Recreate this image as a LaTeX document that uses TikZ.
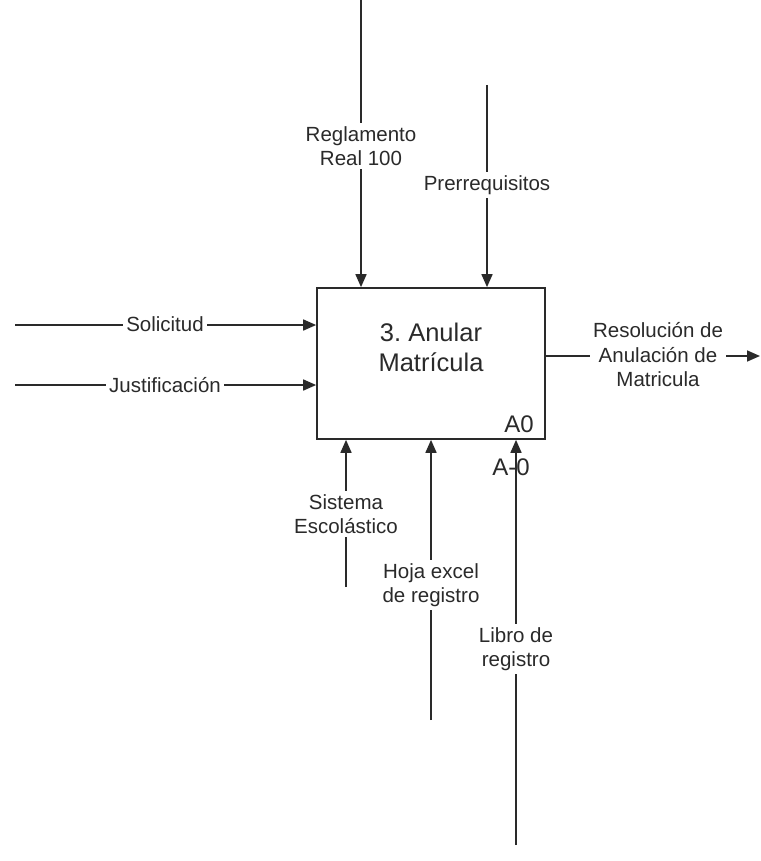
\documentclass[tikz,border=0pt]{standalone}
\usepackage{fontspec}
\setmainfont{Liberation Sans}
\usetikzlibrary{arrows.meta}
\definecolor{ink}{HTML}{2A2A2A}
\frenchspacing
\begin{document}
\begin{tikzpicture}[x=1pt,y=-1pt,
  flow/.style={draw=ink,line width=1.7pt,-{Triangle[length=13pt,width=11pt]}},
  lbl/.style={fill=white,text=ink,font=\fontsize{20.5}{24.5}\selectfont,align=center,inner sep=3pt},
  actbox/.style={draw=ink,line width=1.7pt,minimum width=228pt,minimum height=151pt,inner sep=0pt}]
\useasboundingbox (0,0) rectangle (760,861);
% activity box
\node[actbox] (box) at (431,363.5) {};
\node[text=ink,font=\fontsize{25.5}{30}\selectfont,align=center] (title) at (431,347) {3. Anular\\Matrícula};
\node[text=ink,font=\fontsize{24}{28}\selectfont,anchor=east,inner sep=0pt] (nr) at (534,424) {A0};
\node[text=ink,font=\fontsize{24}{28}\selectfont,inner sep=0pt] (nodeid) at (511,467) {A-0};
% free ends
\coordinate (reg) at (361,0);
\coordinate (pre) at (487,85);
\coordinate (sol) at (15,325);
\coordinate (jus) at (15,385);
\coordinate (res) at (760,356);
\coordinate (sis) at (346,587);
\coordinate (hoj) at (431,720);
\coordinate (lib) at (516,845);
% controls
\draw[flow] (reg) -- (reg |- box.north);
\draw[flow] (pre) -- (pre |- box.north);
% inputs
\draw[flow] (sol) -- (sol -| box.west);
\draw[flow] (jus) -- (jus -| box.west);
% output
\draw[flow] (res -| box.east) -- (res);
% mechanisms
\draw[flow] (sis) -- (sis |- box.south);
\draw[flow] (hoj) -- (hoj |- box.south);
\draw[flow] (lib) -- (lib |- box.south);
% arrow labels
\node[lbl] (lreg) at (361,146) {Reglamento\\Real 100};
\node[lbl] (lpre) at (487,185) {Prerrequisitos};
\node[lbl] (lsol) at (165,324) {Solicitud};
\node[lbl] (ljus) at (165,385) {Justificación};
\node[lbl] (lres) at (658,355) {Resolución de\\Anulación de\\Matricula};
\node[lbl] (lsis) at (346,514) {Sistema\\Escolástico};
\node[lbl] (lhoj) at (431,585) {Hoja excel\\de registro};
\node[lbl] (llib) at (516,649) {Libro de\\registro};
\end{tikzpicture}
\end{document}
